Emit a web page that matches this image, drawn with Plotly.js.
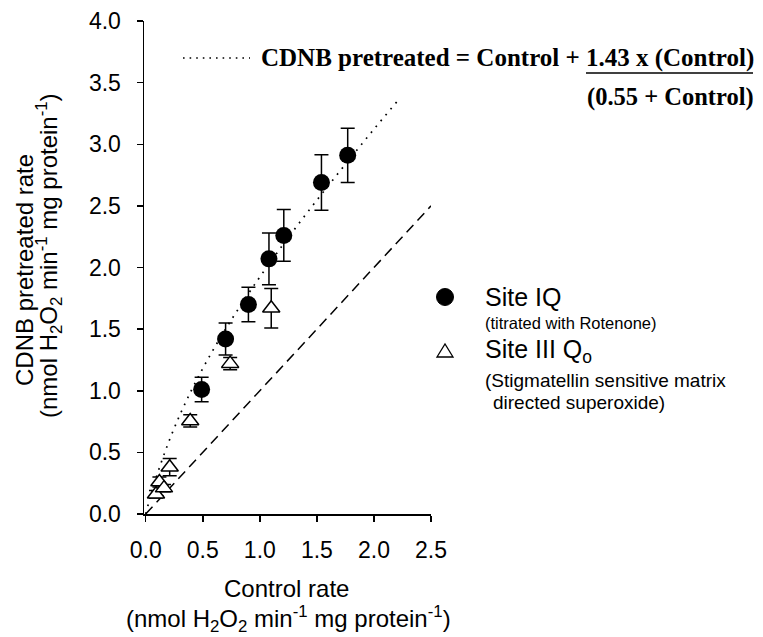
<!DOCTYPE html>
<html>
<head>
<meta charset="utf-8">
<script src="https://cdn.plot.ly/plotly-3.0.1.min.js"></script>
<style>html,body{margin:0;padding:0;background:#fff;}#chart{width:763px;height:637px;}</style>
</head>
<body>
<div id="chart"></div>
<script>
// Site IQ (titrated with Rotenone)
const iqX   = [0.49, 0.70, 0.90, 1.08, 1.21, 1.54, 1.77];
const iqY   = [1.01, 1.42, 1.70, 2.07, 2.26, 2.69, 2.91];
const iqErr = [0.10, 0.13, 0.14, 0.21, 0.21, 0.225, 0.22];

// Site III Qo (Stigmatellin sensitive matrix directed superoxide)
const qoX   = [0.09, 0.12, 0.16, 0.21, 0.39, 0.74, 1.10];
const qoY   = [0.16, 0.26, 0.21, 0.38, 0.755, 1.22, 1.67];
const qoErr = [0.03, 0.04, 0.03, 0.07, 0.05, 0.05, 0.16];

// Fitted curve (dotted)
const fitX = [0, 0.05, 0.1, 0.2, 0.3, 0.4, 0.5, 0.6, 0.7, 0.8, 0.9, 1.0, 1.2, 1.4, 1.6, 1.8, 2.0, 2.2];
const fitY = [0, 0.169, 0.32, 0.581, 0.805, 1.002, 1.181, 1.346, 1.501, 1.647, 1.788, 1.923, 2.181, 2.427, 2.664, 2.895, 3.122, 3.344];

// Line of identity (dashed)
const idX = [0, 2.5];
const idY = [0, 2.5];

const xTicks = [0, 0.5, 1.0, 1.5, 2.0, 2.5];
const xTickText = ['0.0', '0.5', '1.0', '1.5', '2.0', '2.5'];
const yTicks = [0, 0.5, 1.0, 1.5, 2.0, 2.5, 3.0, 3.5, 4.0];
const yTickText = ['0.0', '0.5', '1.0', '1.5', '2.0', '2.5', '3.0', '3.5', '4.0'];

// layout geometry (pixels)
const L = 144, R = 431, T = 21, B = 514;
const W = R - L, H = B - T;
const px = p => (p - L) / W;
const py = p => (B - p) / H;

const SANS = 'Liberation Sans, Arial, sans-serif';
const SERIF = 'Liberation Serif, Times New Roman, serif';

const traces = [
  { x: idX, y: idY, mode: 'lines', line: { color: '#000', width: 1.5, dash: '10px,6px' }, showlegend: false, hoverinfo: 'skip' },
  { x: fitX, y: fitY, mode: 'lines', line: { color: '#000', width: 1.7, dash: '1.7px,6px', shape: 'spline' }, showlegend: false, hoverinfo: 'skip' },
  { x: qoX, y: qoY, mode: 'markers', name: 'Site III Qo',
    marker: { symbol: 'triangle-up', size: 15, color: '#fff', line: { color: '#000', width: 1.5 } },
    error_y: { type: 'data', array: qoErr, visible: true, color: '#000', thickness: 1.5, width: 7 },
    showlegend: false },
  { x: iqX, y: iqY, mode: 'markers', name: 'Site IQ',
    marker: { symbol: 'circle', size: 17, color: '#000' },
    error_y: { type: 'data', array: iqErr, visible: true, color: '#000', thickness: 1.5, width: 7 },
    showlegend: false }
];

const ann = (text, x, y, opts) => Object.assign({
  text: text, xref: 'paper', yref: 'paper', x: px(x), y: py(y),
  showarrow: false, xanchor: 'left', yanchor: 'middle',
  font: { family: SANS, size: 24, color: '#000' }
}, opts || {});

const layout = {
  width: 763, height: 637,
  margin: { l: L, r: 763 - R, t: T, b: 637 - B, pad: 0 },
  paper_bgcolor: '#fff', plot_bgcolor: '#fff',
  showlegend: false,
  xaxis: {
    range: [-0.015, 2.5], tickvals: xTicks, ticktext: xTickText,
    ticks: 'outside', ticklen: 6, tickwidth: 1.5, tickcolor: '#000',
    showline: true, linewidth: 1.5, linecolor: '#000', showgrid: false, zeroline: false,
    tickfont: { family: SANS, size: 23, color: '#000' }, ticklabelstandoff: 9
  },
  yaxis: {
    range: [0, 4], tickvals: yTicks, ticktext: yTickText,
    ticks: 'outside', ticklen: 6, tickwidth: 1.5, tickcolor: '#000',
    showline: true, linewidth: 1.5, linecolor: '#000', showgrid: false, zeroline: false,
    tickfont: { family: SANS, size: 23, color: '#000' }, ticklabelstandoff: 11
  },
  annotations: [
    ann('CDNB pretreated rate', 24, 270, { xanchor: 'center', textangle: -90 }),
    ann('(nmol H<sub>2</sub>O<sub>2</sub> min<sup>-1</sup> mg protein<sup>-1</sup>)', 49, 256, { xanchor: 'center', textangle: -90 }),
    ann('Control rate', 286, 588, { xanchor: 'center' }),
    ann('(nmol H<sub>2</sub>O<sub>2</sub> min<sup>-1</sup> mg protein<sup>-1</sup>)', 288, 619, { xanchor: 'center' }),
    ann('<b>CDNB pretreated = Control + 1.43 x (Control)</b>', 756, 58, { xanchor: 'right', font: { family: SERIF, size: 25, color: '#000' } }),
    ann('<b>(0.55 + Control)</b>', 756, 97, { xanchor: 'right', font: { family: SERIF, size: 24.5, color: '#000' } }),
    ann('Site IQ', 483, 297, { font: { family: SANS, size: 25, color: '#000' } }),
    ann('(titrated with Rotenone)', 483, 323, { font: { family: SANS, size: 16.5, color: '#000' } }),
    ann('Site III Q<sub>o</sub>', 483, 351, { font: { family: SANS, size: 25, color: '#000' } }),
    ann('(Stigmatellin sensitive matrix', 483, 380, { font: { family: SANS, size: 19, color: '#000' } }),
    ann('directed superoxide)', 491, 402, { font: { family: SANS, size: 19, color: '#000' } })
  ],
  shapes: [
    { type: 'line', xref: 'paper', yref: 'paper', x0: px(139), x1: px(144), y0: 0, y1: 0,
      line: { color: '#000', width: 1.5 } },
    { type: 'line', xref: 'paper', yref: 'paper', x0: px(183), x1: px(250), y0: py(58), y1: py(58),
      line: { color: '#000', width: 1.6, dash: '1.6px,5px' } },
    { type: 'line', xref: 'paper', yref: 'paper', x0: px(586), x1: px(753), y0: py(73), y1: py(73),
      line: { color: '#000', width: 1.5 } },
    { type: 'circle', xref: 'paper', yref: 'paper', xsizemode: 'pixel', ysizemode: 'pixel',
      xanchor: px(445), yanchor: py(297), x0: -8.5, x1: 8.5, y0: -8.5, y1: 8.5,
      fillcolor: '#000', line: { color: '#000', width: 1 } },
    { type: 'path', xref: 'paper', yref: 'paper', xsizemode: 'pixel', ysizemode: 'pixel',
      xanchor: px(445), yanchor: py(351), path: 'M-8,-6 L8,-6 L0,7 Z',
      fillcolor: '#fff', line: { color: '#000', width: 1.3 } }
  ]
};

Plotly.newPlot('chart', traces, layout, { staticPlot: true, displayModeBar: false });
</script>
</body>
</html>
